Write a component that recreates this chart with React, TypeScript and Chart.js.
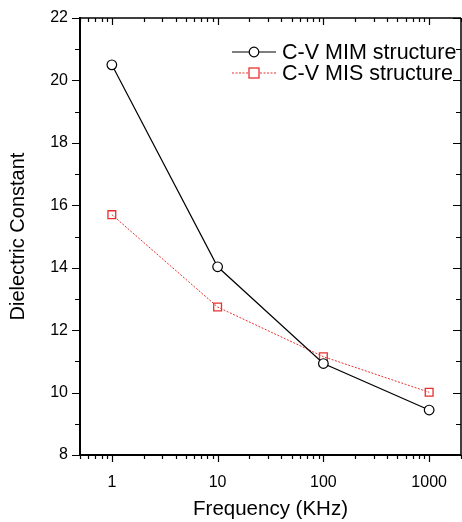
import React, { useEffect, useRef } from "react";
import { Chart, registerables } from "chart.js";

Chart.register(...registerables);

const frequencies = [1, 10, 100, 1000];
const mimValues = [20.5, 14.03, 10.93, 9.44];
const misValues = [15.7, 12.74, 11.15, 10.01];
const xTickLabels = [1, 10, 100, 1000];
const yTickValues = [8, 10, 12, 14, 16, 18, 20, 22];
const legendLabels = ["C-V MIM structure", "C-V MIS structure"];

const FONT = "'Liberation Sans', Arial, Helvetica, sans-serif";
const RED = "#e8312e";

function drawCircle(ctx: CanvasRenderingContext2D, x: number, y: number) {
  ctx.save();
  ctx.beginPath();
  ctx.arc(x, y, 4.8, 0, Math.PI * 2);
  ctx.fillStyle = "#fff";
  ctx.fill();
  ctx.strokeStyle = "#000";
  ctx.lineWidth = 1.2;
  ctx.stroke();
  ctx.restore();
}

function drawSquare(ctx: CanvasRenderingContext2D, x: number, y: number) {
  ctx.save();
  ctx.fillStyle = "#fff";
  ctx.fillRect(x - 5, y - 5, 10, 10);
  ctx.strokeStyle = RED;
  ctx.lineWidth = 1.3;
  ctx.strokeRect(x - 5, y - 5, 10, 10);
  ctx.restore();
}

const framePlugin = {
  id: "framePlugin",
  afterDraw(chart: any) {
    const ctx: CanvasRenderingContext2D = chart.ctx;
    const { left, right, top, bottom } = chart.chartArea;
    const xs = chart.scales.x;
    const ys = chart.scales.y;
    ctx.save();
    ctx.strokeStyle = "#000";
    ctx.lineWidth = 1.5;
    ctx.beginPath();
    ctx.moveTo(left, top);
    ctx.lineTo(right, top);
    ctx.moveTo(right, top);
    ctx.lineTo(right, bottom);
    ctx.stroke();
    ctx.lineWidth = 2;
    ctx.beginPath();
    ctx.moveTo(left, top - 1);
    ctx.lineTo(left, bottom + 1);
    ctx.moveTo(left - 1, bottom);
    ctx.lineTo(right, bottom);
    ctx.stroke();

    ctx.lineWidth = 1.2;
    const xmin = xs.min;
    const xmax = xs.max;
    for (let e = -1; e <= 3; e++) {
      for (let k = 1; k <= 9; k++) {
        const v = k * Math.pow(10, e);
        if (v < xmin || v > xmax) continue;
        const px = Math.round(xs.getPixelForValue(v)) + 0.5;
        const len = k === 1 ? 7 : 4;
        ctx.beginPath();
        ctx.moveTo(px, bottom);
        ctx.lineTo(px, bottom + len);
        ctx.moveTo(px, top);
        ctx.lineTo(px, top + len);
        ctx.stroke();
      }
    }
    for (let v = ys.min; v <= ys.max; v += 1) {
      const py = Math.round(ys.getPixelForValue(v)) + 0.5;
      const len = v % 2 === 0 ? 8 : 5;
      ctx.beginPath();
      ctx.moveTo(left, py);
      ctx.lineTo(left - len, py);
      ctx.moveTo(right, py);
      ctx.lineTo(right - len, py);
      ctx.stroke();
    }
    ctx.restore();

    const rows = [
      { y: 52, label: legendLabels[0], kind: "mim" },
      { y: 73, label: legendLabels[1], kind: "mis" },
    ];
    ctx.save();
    rows.forEach((r) => {
      ctx.beginPath();
      if (r.kind === "mim") {
        ctx.strokeStyle = "#000";
        ctx.lineWidth = 1.2;
        ctx.setLineDash([]);
      } else {
        ctx.strokeStyle = RED;
        ctx.lineWidth = 1;
        ctx.setLineDash([2, 1.5]);
      }
      ctx.moveTo(232, r.y);
      ctx.lineTo(276, r.y);
      ctx.stroke();
      ctx.setLineDash([]);
      if (r.kind === "mim") drawCircle(ctx, 254, r.y);
      else drawSquare(ctx, 254, r.y);
      ctx.fillStyle = "#000";
      ctx.font = `21.5px ${FONT}`;
      ctx.textBaseline = "middle";
      ctx.textAlign = "left";
      ctx.fillText(r.label, 282, r.y + 1);
    });
    ctx.restore();
  },
};

export default function App() {
  const ref = useRef<HTMLCanvasElement | null>(null);
  useEffect(() => {
    if (!ref.current) return;
    const chart = new Chart(ref.current, {
      type: "line",
      data: {
        datasets: [
          {
            label: legendLabels[0],
            data: frequencies.map((f, i) => ({ x: f, y: mimValues[i] })),
            borderColor: "#000",
            borderWidth: 1.2,
            pointStyle: "circle",
            pointRadius: 4.8,
            pointBorderWidth: 1.2,
            pointBackgroundColor: "#fff",
            pointBorderColor: "#000",
            tension: 0,
          },
          {
            label: legendLabels[1],
            data: frequencies.map((f, i) => ({ x: f, y: misValues[i] })),
            borderColor: RED,
            borderWidth: 1,
            borderDash: [2, 1.5],
            pointStyle: "rect",
            pointRadius: 5.5,
            pointBorderWidth: 1.3,
            pointBackgroundColor: "rgba(255,255,255,0)",
            pointBorderColor: RED,
            tension: 0,
          },
        ],
      },
      options: {
        animation: false,
        responsive: false,
        layout: { autoPadding: false, padding: { top: 18, right: 1, left: 0, bottom: 0 } },
        plugins: { legend: { display: false }, tooltip: { enabled: false } },
        scales: {
          x: {
            type: "logarithmic",
            min: 0.5,
            max: 2000,
            grid: { display: false, drawTicks: false },
            border: { display: false },
            afterBuildTicks: (scale: any) => {
              scale.ticks = xTickLabels.map((v) => ({ value: v, major: true }));
            },
            ticks: {
              autoSkip: false,
              maxRotation: 0,
              padding: 18,
              color: "#000",
              font: { family: FONT, size: 16 },
              callback: (v: any) => String(v),
            },
            title: {
              display: true,
              text: "Frequency (KHz)",
              color: "#000",
              font: { family: FONT, size: 20.5 },
              padding: { top: 6, bottom: 0 },
            },
            afterFit: (scale: any) => {
              scale.height = 67;
              scale.paddingLeft = 0;
              scale.paddingRight = 0;
            },
          },
          y: {
            min: 8,
            max: 22,
            grid: { display: false, drawTicks: false },
            border: { display: false },
            afterBuildTicks: (scale: any) => {
              scale.ticks = yTickValues.map((v) => ({ value: v }));
            },
            ticks: {
              padding: 12,
              color: "#000",
              font: { family: FONT, size: 16 },
            },
            title: {
              display: true,
              text: "Dielectric Constant",
              color: "#000",
              font: { family: FONT, size: 20 },
              padding: { top: 6, bottom: 0 },
            },
            afterFit: (scale: any) => {
              scale.width = 80;
              scale.paddingTop = 0;
              scale.paddingBottom = 0;
            },
          },
        },
      },
      plugins: [framePlugin],
    } as any);
    return () => chart.destroy();
  }, []);
  return (
    <div style={{ position: "fixed", left: 0, top: 0, width: 462, height: 522, background: "#fff" }}>
      <canvas ref={ref} width={462} height={522} />
    </div>
  );
}
